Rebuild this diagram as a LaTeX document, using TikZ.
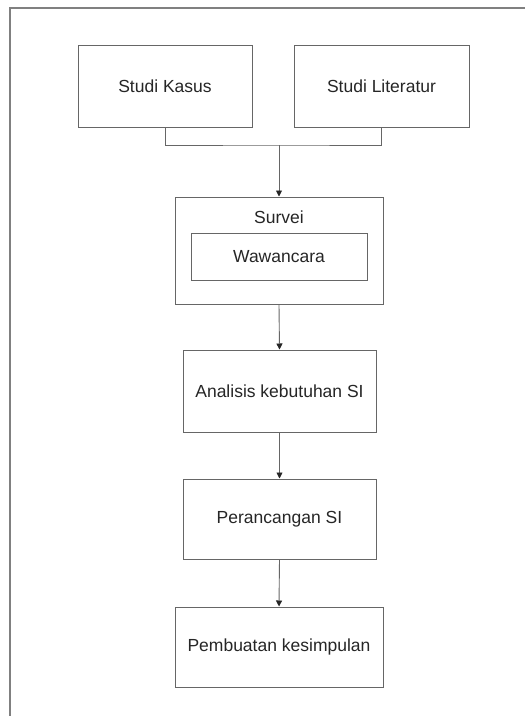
\documentclass[tikz,border=0pt]{standalone}
\usepackage{fontspec}
\setmainfont{Liberation Sans}
\usetikzlibrary{arrows.meta}
\definecolor{ln}{gray}{0.4}
\definecolor{tx}{gray}{0.15}
\tikzset{
  boxx/.style={draw=ln, line width=1pt, inner sep=0pt, text=tx,
    font=\fontsize{17.5}{20}\selectfont},
  arr/.style={draw=ln, line width=0.9pt, -{Triangle[length=6pt,width=6pt,color=black!85]}},
  conn/.style={draw=ln, line width=1pt},
}
\begin{document}
\begin{tikzpicture}[x=1pt,y=-1pt]
\useasboundingbox (0,0) rectangle (525,716);
\fill[white] (0,0) rectangle (525,716);
\draw[draw=gray, line width=1.4pt] (10,716) -- (10,8) -- (525,8);
\node[boxx, minimum width=174pt, minimum height=82pt] (sk) at (165,86) {Studi Kasus};
\node[boxx, minimum width=175pt, minimum height=82pt] (sl) at (381.5,86) {Studi Literatur};
\node[boxx, minimum width=208pt, minimum height=107pt] (sv) at (279,250.5) {};
\node[text=tx, font=\fontsize{17.5}{20}\selectfont] (svl) at (279,217) {Survei};
\node[boxx, minimum width=176pt, minimum height=47pt] (ww) at (279,256.5) {Wawancara};
\node[boxx, minimum width=193pt, minimum height=82pt] (an) at (279.5,391) {Analisis kebutuhan SI};
\node[boxx, minimum width=193pt, minimum height=80pt] (pr) at (279.5,519) {Perancangan SI};
\node[boxx, minimum width=208pt, minimum height=80pt] (pb) at (279,647) {Pembuatan kesimpulan};
\coordinate (j) at (279,145);
\draw[conn] (sk.south) |- (j) -| (sl.south);
\draw[arr] (j) -- (sv.north);
\draw[arr] (sv.south) -- (an.north);
\draw[arr] (an.south) -- (pr.north);
\draw[arr] (pr.south) -- (pb.north);
\end{tikzpicture}
\end{document}
